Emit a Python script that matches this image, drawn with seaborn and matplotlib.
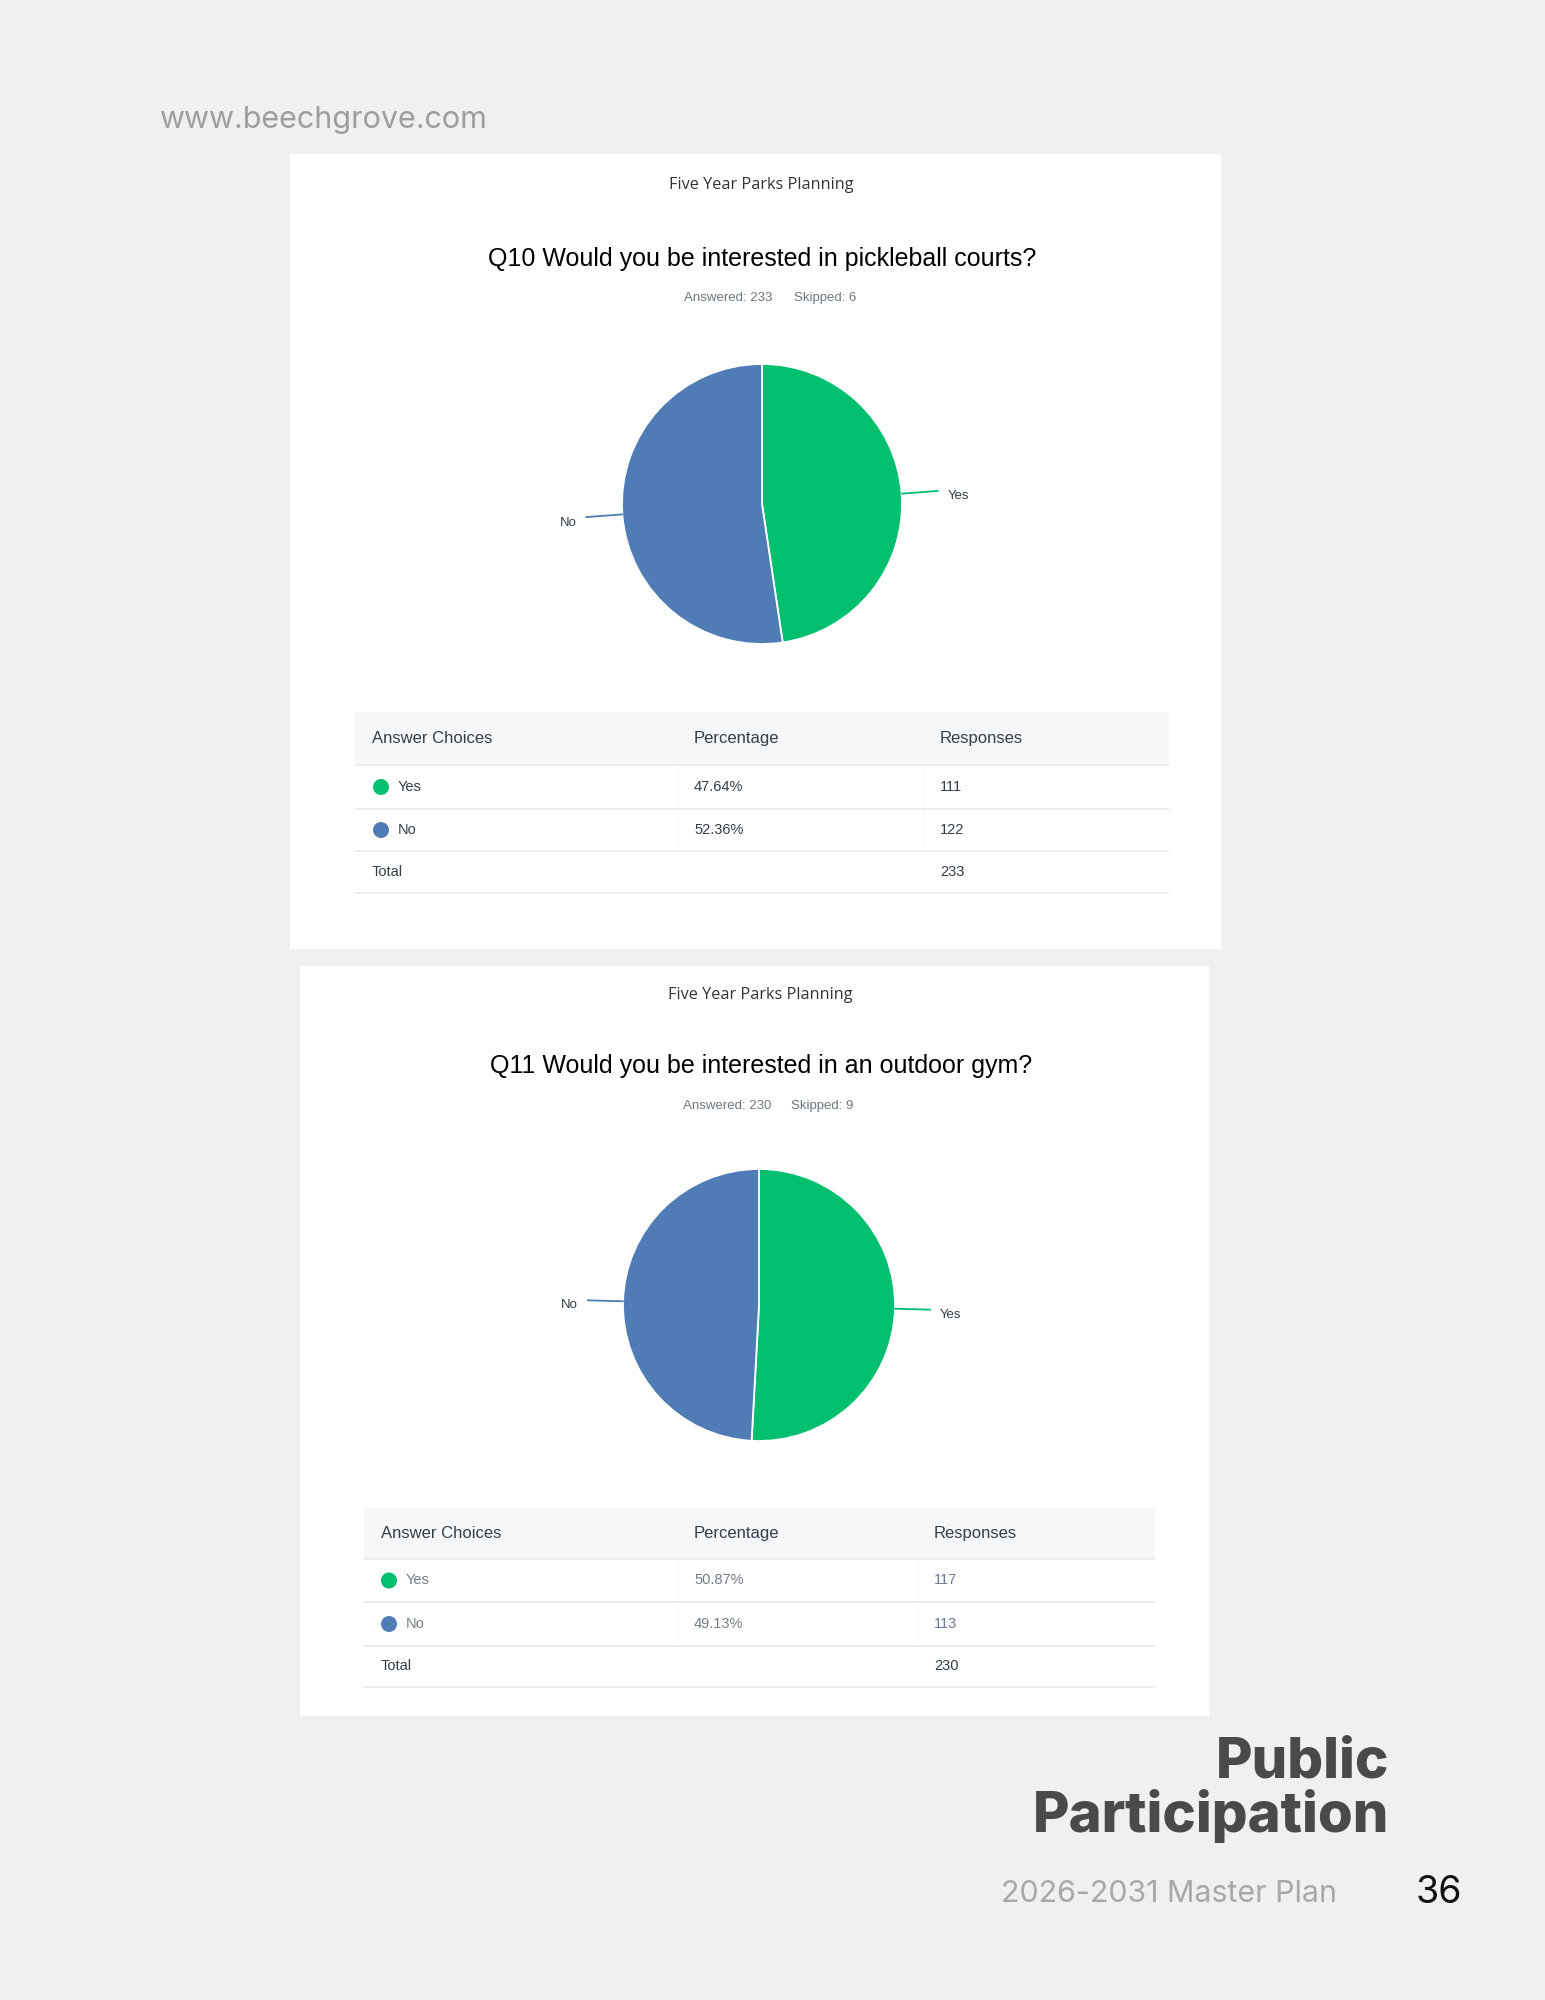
import numpy as np
import seaborn as sns
import matplotlib.pyplot as plt
from matplotlib.patches import Rectangle, Circle

sns.set_theme(style="white")
plt.rcParams['font.family'] = ['Liberation Sans', 'DejaVu Sans']

# survey data
choices = ["Yes", "No"]
q10_title = "Q10 Would you be interested in pickleball courts?"
q10_responses = [111, 122]
q10_answered, q10_skipped = 233, 6
q11_title = "Q11 Would you be interested in an outdoor gym?"
q11_responses = [117, 113]
q11_answered, q11_skipped = 230, 9

colors = sns.color_palette(["#00bf6f", "#507cb6"])
W, H = 1545, 2000

fig = plt.figure(figsize=(W / 100, H / 100), dpi=100, facecolor="#f0f0f0")
bg = fig.add_axes([0, 0, 1, 1])
bg.set_xlim(0, W)
bg.set_ylim(H, 0)
bg.axis("off")


def pie_chart(cx, cy, r, values):
    # axes placed in page pixels, 1 data unit = radius
    span = 2.2 * r
    ax = fig.add_axes([(cx - span) / W, (H - cy - span) / H, 2 * span / W, 2 * span / H])
    wedges, _ = ax.pie(values, colors=colors, startangle=90, counterclock=False,
                       wedgeprops=dict(edgecolor="white", linewidth=1.3))
    ax.set_xlim(-2.2, 2.2)
    ax.set_ylim(-2.2, 2.2)
    ax.set_aspect("equal")
    ax.axis("off")
    for w, lab, c in zip(wedges, choices, colors):
        ang = np.deg2rad((w.theta1 + w.theta2) / 2)
        x, y = np.cos(ang), np.sin(ang)
        ax.plot([x * 1.0, x * 1.26], [y * 1.0, y * 1.26], color=c, lw=1.3)
        ax.text(x * 1.33, y * 1.33 - 0.04, lab, ha="left" if x > 0 else "right", va="center",
                fontsize=9.5, color="#333e48")


def survey_card(box, top, title, answered, skipped, pie, table, values, faded):
    x0, y0, x1, y1 = box
    bg.add_patch(Rectangle((x0, y0), x1 - x0, y1 - y0, facecolor="white", edgecolor="none"))
    cx = (x0 + x1) / 2
    bg.text(cx + 6, top[0], "Five Year Parks Planning", ha="center", va="center",
            fontsize=11.7, color="#333333", family=["Open Sans", "DejaVu Sans"])
    bg.text(cx + 7, top[1], title, ha="center", va="center", fontsize=18, color="#000000")
    bg.text(top[3], top[2], "Answered: %d" % answered, ha="right", va="center",
            fontsize=9.5, color="#6b7780")
    bg.text(top[4], top[2], "Skipped: %d" % skipped, ha="left", va="center",
            fontsize=9.5, color="#6b7780")

    pie_chart(pie[0], pie[1], pie[2], values)

    tx0, tx1, lines, colx, dotx = table
    total = sum(values)
    # header band
    bg.add_patch(Rectangle((tx0, lines[0]), tx1 - tx0, lines[1] - lines[0],
                           facecolor="#f6f7f9", edgecolor="none"))
    for xs in colx[1:]:
        bg.plot([xs - 16, xs - 16], [lines[0], lines[3]], color="#f8f9fa", lw=0.8)
    for yl in lines[1:]:
        bg.plot([tx0, tx1], [yl, yl], color="#e8eaed", lw=1.2)
    hy = (lines[0] + lines[1]) / 2
    for x, h in zip(colx, ["Answer Choices", "Percentage", "Responses"]):
        bg.text(x, hy, h, ha="left", va="center", fontsize=12, color="#333e48")
    row_col = "#757d86" if faded else "#333e48"
    val_col = "#6c7a92" if faded else "#333e48"
    for i, (lab, v, c) in enumerate(zip(choices, values, colors)):
        ry = (lines[i + 1] + lines[i + 2]) / 2
        bg.add_patch(Circle((dotx, ry), 8, facecolor=c, edgecolor="none"))
        bg.text(dotx + 17, ry, lab, ha="left", va="center", fontsize=10.5, color=row_col)
        bg.text(colx[1], ry, "%.2f%%" % (100.0 * v / total), ha="left", va="center",
                fontsize=10.5, color=row_col)
        bg.text(colx[2], ry, str(v), ha="left", va="center", fontsize=10.5, color=val_col)
    ty = (lines[3] + lines[4]) / 2
    bg.text(colx[0], ty, "Total", ha="left", va="center", fontsize=10.5, color="#333e48")
    bg.text(colx[2], ty, str(total), ha="left", va="center", fontsize=10.5, color="#333e48")


survey_card((290, 154, 1221, 949), (185, 259, 298, 772, 794), q10_title,
            q10_answered, q10_skipped, (762, 504, 140),
            (355, 1169, [712, 765, 809, 851, 893], [372, 694, 940], 381),
            q10_responses, faded=False)

survey_card((300, 966, 1209, 1716), (995, 1066, 1106, 771, 791), q11_title,
            q11_answered, q11_skipped, (759, 1305, 136),
            (364, 1155, [1508, 1559, 1602, 1646, 1687], [381, 694, 934], 389),
            q11_responses, faded=True)

# page furniture
inter = ["Inter", "DejaVu Sans"]
bg.text(160, 120, "www.beechgrove.com", ha="left", va="center", fontsize=22,
        color="#9e9e9e", family=inter)
bg.text(1389, 1778, "Public", ha="right", va="baseline", fontsize=40.5,
        fontweight="heavy", color="#4a4a4a", family=inter)
bg.text(1389, 1832, "Participation", ha="right", va="baseline", fontsize=40.5,
        fontweight="heavy", color="#4a4a4a", family=inter)
bg.text(1337, 1894, "2026-2031 Master Plan", ha="right", va="center", fontsize=21.9,
        color="#a8a8a8", family=inter)
bg.text(1462, 1893, "36", ha="right", va="center", fontsize=27,
        color="#111111", family=inter)

fig.savefig("out.png", dpi=100, facecolor=fig.get_facecolor())
